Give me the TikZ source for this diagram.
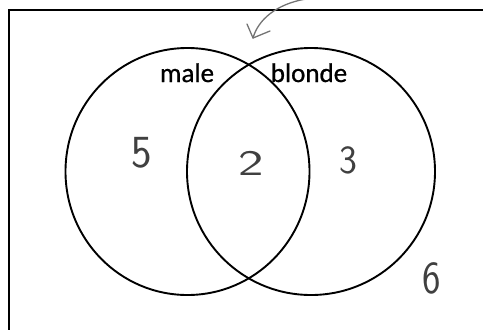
\documentclass[tikz,border=0pt]{standalone}
\usepackage{fontspec}
\usetikzlibrary{shapes.geometric}
\newfontfamily\labelfont{Carlito}[FakeBold=0.8]
\begin{document}
\begin{tikzpicture}[x=1bp,y=-1bp,
  frame/.style={line width=2bp,black},
  setcircle/.style={draw=black,line width=1.9bp},
  setlabel/.style={font=\labelfont\fontsize{27bp}{31bp}\selectfont,anchor=base,inner sep=0pt,text=black},
  hand/.style={font=\sffamily,text=black!75,inner sep=0pt},
  pointer/.style={draw=black!55,line width=1.3bp,line cap=round,line join=round}]
\useasboundingbox (0,0) rectangle (483,329);
\begin{scope}
\clip (0,0) rectangle (483,329);
\draw[frame] (9,340) -- (9,10) -- (495,10);
\end{scope}
\node[setcircle,ellipse,minimum width=244bp,minimum height=247bp,inner sep=0pt] (male) at (187.5,171.5) {};
\node[setcircle,ellipse,minimum width=248bp,minimum height=247bp,inner sep=0pt] (blonde) at (311,171.5) {};
\node[setlabel] (malelabel) at (187,82) {male};
\node[setlabel] (blondelabel) at (309,82) {blonde};
\node[hand,font=\sffamily\fontsize{46bp}{50bp}\selectfont,xscale=0.95] (n5) at (142,153) {5};
\node[hand,font=\sffamily\fontsize{36bp}{40bp}\selectfont,xscale=1.5] (n2) at (251,163) {2};
\node[hand,font=\sffamily\fontsize{40bp}{44bp}\selectfont,xscale=0.95] (n3) at (348,160) {3};
\node[hand,font=\sffamily\fontsize{46bp}{50bp}\selectfont,xscale=0.85] (n6) at (432,278) {6};
\coordinate (arrowstart) at (306,-1);
\coordinate (arrowtip) at (253,38);
\draw[pointer] (arrowstart) .. controls (276,4) and (258,20) .. (arrowtip);
\draw[pointer] (247,24) -- (arrowtip) -- (270,31);
\end{tikzpicture}
\end{document}
